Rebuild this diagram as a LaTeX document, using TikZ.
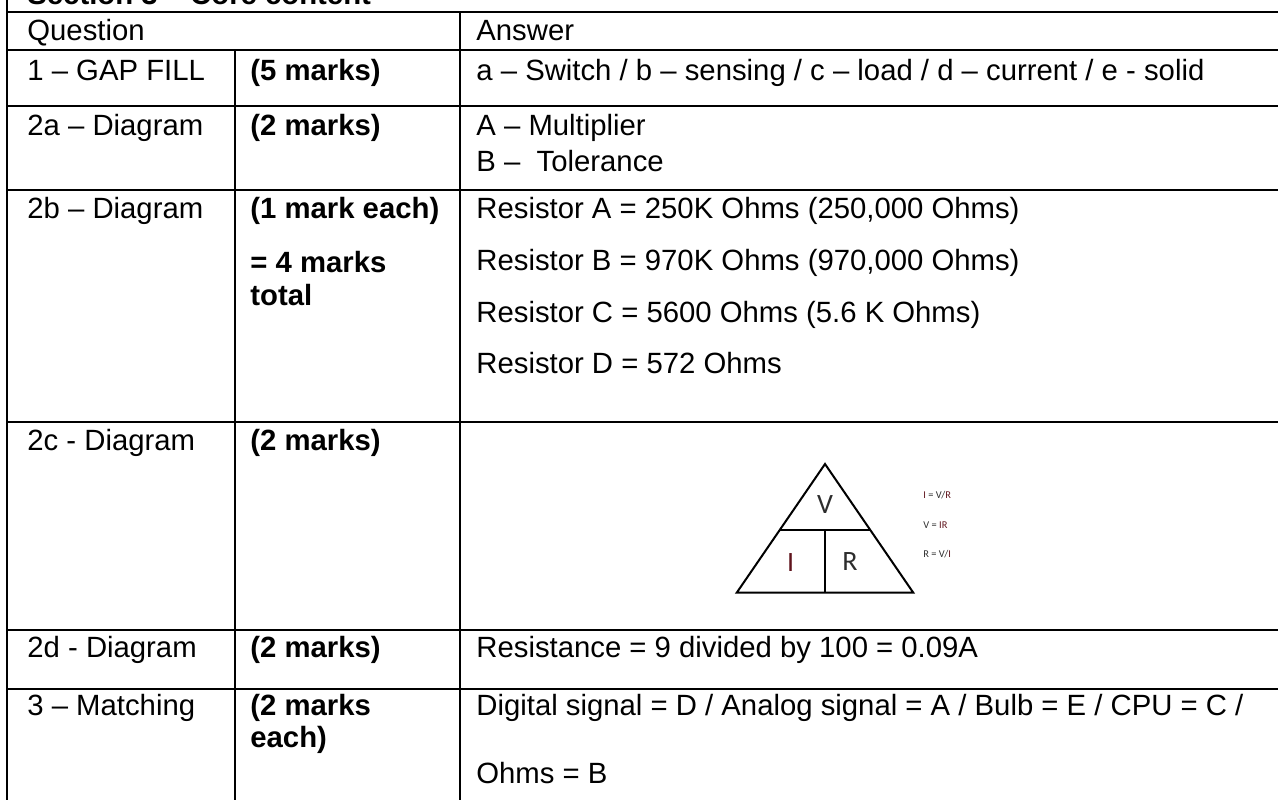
\documentclass[tikz,border=0pt]{standalone}
\usepackage{fontspec}
\setmainfont{Liberation Sans}
\newfontfamily\calibri{Carlito}
\definecolor{maroonish}{RGB}{95,20,28}
\definecolor{darkgrey}{RGB}{45,45,45}
\tikzstyle{cell}=[anchor=base west, inner sep=0pt, font=\fontsize{14.65}{17}\selectfont]
\tikzstyle{cellbold}=[cell, font=\fontsize{14.65}{17}\selectfont\bfseries]
\tikzstyle{rule}=[draw=black, line width=1pt]
\tikzstyle{tri}=[draw=black, line width=1pt, line join=miter]
\tikzstyle{trilabel}=[anchor=center, inner sep=0pt, font=\calibri\fontsize{14}{16}\selectfont]
\tikzstyle{formula}=[anchor=base west, inner sep=0pt, text=darkgrey, font=\calibri\fontsize{5.2}{6}\selectfont]

\begin{document}
\begin{tikzpicture}[x=0.5pt, y=-0.5pt]
		   \useasboundingbox (0,0) rectangle (1278,800);
		   \clip (0,0) rectangle (1278,800);
		   % table rules
		   \begin{scope}
			   \draw[rule] (7,0) -- (7,800);
			   \draw[rule] (235,50) -- (235,800);
			   \draw[rule] (460,12) -- (460,800);
			   \foreach \y in {12,50,106,190,422,630,689}
				   \draw[rule] (6,\y) -- (1278,\y);
		   \end{scope}
		   % cell texts
		   \begin{scope}
			   \node (title) at (27,4)[cellbold] {Section 3 – Core content};
			   \node (question) at (27,40)[cell] {Question};
			   \node (answer) at (476,40)[cell] {Answer};
			   \node (q1) at (27,80)[cell] {1 – GAP FILL};
			   \node (m1) at (250,80)[cellbold] {(5 marks)};
			   \node (a1) at (476,80)[cell] {a – Switch / b – sensing / c – load / d – current / e - solid};
			   \node (q2a) at (27,135)[cell] {2a – Diagram};
			   \node (m2a) at (250,135)[cellbold] {(2 marks)};
			   \node (a2a) at (476,135)[cell] {A – Multiplier};
			   \node (b2a) at (476,171)[cell] {B –\ \ Tolerance};
			   \node (q2b) at (27,218)[cell] {2b – Diagram};
			   \node (m2b) at (250,218)[cellbold] {(1 mark each)};
			   \node (t2b) at (250,272)[cellbold] {= 4 marks};
			   \node (u2b) at (250,305)[cellbold] {total};
			   \node (ra) at (476,218)[cell] {Resistor A = 250K Ohms (250,000 Ohms)};
			   \node (rb) at (476,270)[cell] {Resistor B = 970K Ohms (970,000 Ohms)};
			   \node (rc) at (476,322)[cell] {Resistor C = 5600 Ohms (5.6 K Ohms)};
			   \node (rd) at (476,373)[cell] {Resistor D = 572 Ohms};
			   \node (q2c) at (27,450)[cell] {2c - Diagram};
			   \node (m2c) at (250,450)[cellbold] {(2 marks)};
			   \node (q2d) at (27,657)[cell] {2d - Diagram};
			   \node (m2d) at (250,657)[cellbold] {(2 marks)};
			   \node (a2d) at (476,657)[cell] {Resistance = 9 divided by 100 = 0.09A};
			   \node (q3) at (27,715)[cell] {3 – Matching};
			   \node (m3) at (250,715)[cellbold] {(2 marks};
			   \node (e3) at (250,747)[cellbold] {each)};
			   \node (a3) at (476,715)[cell] {Digital signal = D / Analog signal = A / Bulb = E / CPU = C /};
			   \node (o3) at (476,783)[cell] {Ohms = B};
		   \end{scope}
		   % VIR triangle
		   \begin{scope}
			   \coordinate (apex) at (825,464);
			   \coordinate (baseL) at (736.7,592.7);
			   \coordinate (baseR) at (913.3,592.7);
			   \coordinate (midL) at (779.7,530);
			   \coordinate (midR) at (870.3,530);
			   \coordinate (midC) at (825,530);
			   \coordinate (baseC) at (825,592.7);
			   \draw[tri] (apex) -- (baseR) -- (baseL) -- cycle;
			   \draw[tri] (midL) -- (midR);
			   \draw[tri] (midC) -- (baseC);
			   \node (V) at (825,505)[trilabel, text=darkgrey] {V};
			   \node (I) at (790.7,563)[trilabel, text=maroonish] {I};
			   \node (R) at (850,562)[trilabel, text=darkgrey] {R};
			   \node (fI) at (923,498)[formula] {\textcolor{maroonish}{I} = V/\textcolor{maroonish}{R}};
			   \node (fV) at (923,528)[formula] {V = \textcolor{maroonish}{IR}};
			   \node (fR) at (923,557)[formula] {R = V/\textcolor{maroonish}{I}};
		   \end{scope}
	   \end{tikzpicture}
\end{document}
